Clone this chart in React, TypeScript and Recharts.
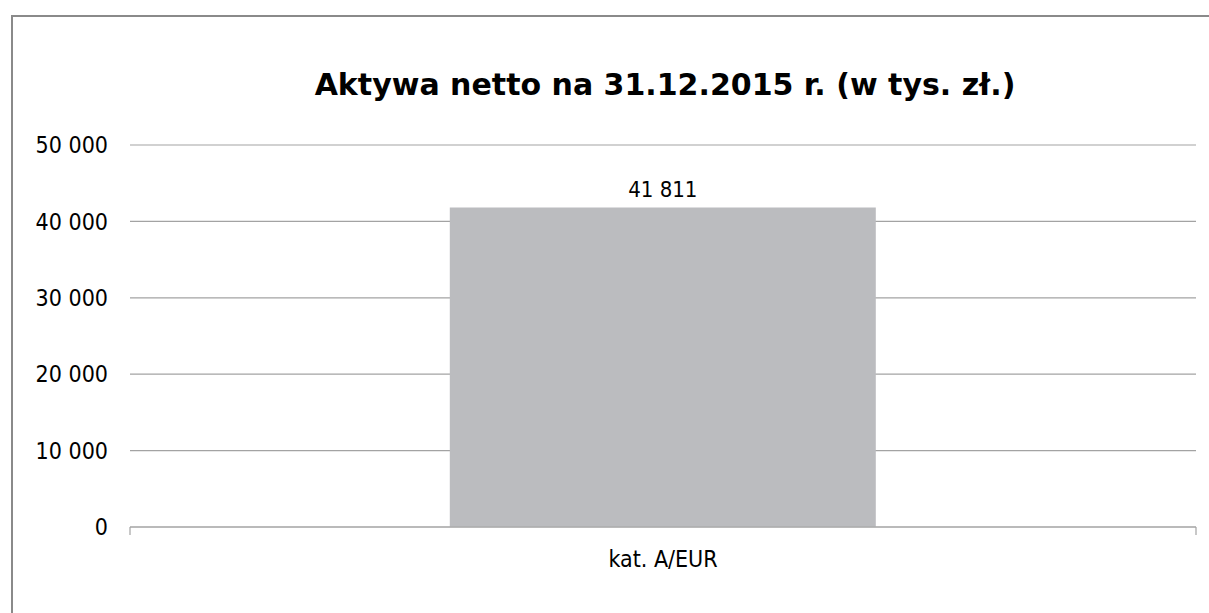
import React from "react";
import {
  BarChart,
  Bar,
  XAxis,
  YAxis,
  CartesianGrid,
  LabelList,
} from "recharts";

const categories = ["kat. A/EUR"];
const netAssets = [41811];
const yTicks = [0, 10000, 20000, 30000, 40000, 50000];

const title = "Aktywa netto na 31.12.2015 r. (w tys. zł.)";

const data = categories.map((name, i) => ({ name, value: netAssets[i] }));

// 50000 -> "50 000"
const fmt = (v: number) =>
  String(v).replace(/\B(?=(\d{3})+(?!\d))/g, " ");

const FONT = "'DejaVu Sans', Verdana, sans-serif";
const COND = "'DejaVu Sans Condensed', 'DejaVu Sans', sans-serif";
const GRID = "#a3a3a3";
const TICK_LEN = 8;

// category label plus the small tick marks at both edges of the band
const CategoryTick = (props: any) => {
  const { x, y, payload } = props;
  const half = payload?.offset ?? 0;
  const axisY = y - TICK_LEN;
  return (
    <g>
      <line x1={x - half} x2={x - half} y1={axisY} y2={y} stroke={GRID} strokeWidth={1.2} />
      <line x1={x + half} x2={x + half} y1={axisY} y2={y} stroke={GRID} strokeWidth={1.2} />
      <text
        x={x}
        y={y}
        dy={32}
        textAnchor="middle"
        fill="#000"
        fontSize={23}
        fontFamily={COND}
      >
        {payload.value}
      </text>
    </g>
  );
};

const App: React.FC = () => {
  return (
    <div
      style={{
        position: "fixed",
        left: 0,
        top: 0,
        width: 1209,
        height: 613,
        overflow: "hidden",
        background: "#fff",
      }}
    >
      <div
        style={{
          position: "absolute",
          left: 11,
          top: 15,
          width: 1240,
          height: 640,
          border: "2px solid #8a8a8a",
          boxSizing: "border-box",
        }}
      >
        <div
          style={{
            position: "absolute",
            left: 119,
            width: 1066,
            top: 50,
            textAlign: "center",
            fontFamily: FONT,
            fontWeight: "bold",
            fontSize: 30,
            color: "#000",
          }}
        >
          {title}
        </div>
        <BarChart
          width={1220}
          height={620}
          data={data}
          margin={{ top: 128, right: 37, bottom: 80, left: 0 }}
          barCategoryGap="30%"
        >
          <CartesianGrid vertical={false} stroke={GRID} strokeWidth={1.2} />
          <XAxis
            dataKey="name"
            axisLine={{ stroke: GRID, strokeWidth: 1.2 }}
            tickLine={false}
            tickSize={TICK_LEN}
            tickMargin={0}
            height={30}
            interval={0}
            tick={<CategoryTick />}
          />
          <YAxis
            width={117}
            domain={[0, 50000]}
            ticks={yTicks}
            tickFormatter={fmt}
            axisLine={false}
            tickLine={false}
            tickMargin={16}
            tick={{ fill: "#000", fontSize: 23, fontFamily: COND }}
          />
          <Bar dataKey="value" fill="#bbbcbf" isAnimationActive={false}>
            <LabelList
              dataKey="value"
              position="top"
              offset={11}
              formatter={(v: any) => fmt(Number(v))}
              style={{ fill: "#000", fontSize: 22, fontFamily: COND }}
            />
          </Bar>
        </BarChart>
      </div>
    </div>
  );
};

export default App;
